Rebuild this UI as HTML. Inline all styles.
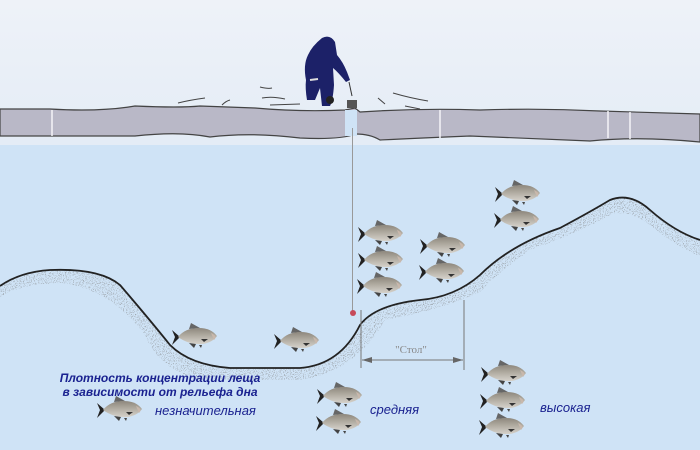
<!DOCTYPE html>
<html><head><meta charset="utf-8"><style>
body{margin:0;width:700px;height:450px;overflow:hidden;background:#cfe3f6}
svg{display:block}
</style></head><body>
<svg width="700" height="450" viewBox="0 0 700 450">
<defs>
<linearGradient id="sky" x1="0" y1="0" x2="0" y2="1"><stop offset="0" stop-color="#eef2f8"/><stop offset="1" stop-color="#e4ecf6"/></linearGradient>
<linearGradient id="fb" x1="0" y1="0" x2="0" y2="1"><stop offset="0" stop-color="#8d877c"/><stop offset="0.5" stop-color="#b3aea4"/><stop offset="1" stop-color="#d6d2cb"/></linearGradient>
<filter id="spk"><feTurbulence type="fractalNoise" baseFrequency="0.9" numOctaves="2" result="n"/><feColorMatrix type="matrix" values="0 0 0 0 0.2 0 0 0 0 0.2 0 0 0 0 0.2 0 0 0 -7 3.2" in="n" result="m"/><feComposite in="m" in2="SourceGraphic" operator="in"/></filter>
<g id="fish">
<path d="M-23,-6 L-15,1 L-23,9 L-20,1 Z" fill="#222"/>
<path d="M-6,-7 L-4,-13 L5,-8 Z" fill="#666"/>
<path d="M-17,1 Q-10,-8 4,-8 Q16,-8 22,0 Q18,6 8,8 Q-6,9 -17,1Z" fill="url(#fb)"/>
<path d="M16,-3 Q23,0 19,4 Z" fill="#c9b8ac"/>
<path d="M6,3 L13,3 L9,6Z" fill="#333"/>
<path d="M-6,7 L-1,12 L1,8Z" fill="#444"/>
<path d="M4,9 L6,12 L7,9Z" fill="#444"/>
</g>
</defs>
<rect width="700" height="145" fill="url(#sky)"/>
<!-- ice -->
<path d="M0,109 L50,109 Q100,112 135,106 Q180,108 200,106 L255,108 Q300,112 345,110 L355,108 L360,112 Q420,108 480,110 Q540,108 600,111 L700,114 L700,142 Q640,136 590,141 Q520,138 470,136 Q420,138 380,140 Q370,134 356,134 Q340,140 300,138 Q250,132 210,137 Q180,131 135,136 L0,136 Z" fill="#b9b8c7" stroke="#444" stroke-width="1.2"/>
<rect x="345" y="110" width="12" height="26" fill="#cfe3f6"/>
<g stroke="#f4f4f8" stroke-width="1.5"><line x1="52" y1="110" x2="52" y2="136"/><line x1="440" y1="110" x2="440" y2="138"/><line x1="608" y1="111" x2="608" y2="138"/><line x1="630" y1="112" x2="630" y2="139"/></g>
<!-- snow scribbles -->
<g stroke="#444" stroke-width="1" fill="none">
<path d="M178,103 Q190,100 205,98"/><path d="M222,105 Q226,101 230,100"/><path d="M260,87 Q268,89 272,88"/><path d="M262,98 Q272,96 285,99"/><path d="M393,93 Q410,98 428,101"/><path d="M378,98 L385,104"/><path d="M405,106 L420,109"/><path d="M270,105 L300,104"/></g>
<!-- fisherman -->
<g fill="#1c2168">
<path d="M322,38 Q330,34 335,42 L337,55 Q343,62 347,72 L350,80 L346,82 Q338,72 333,68 L334,85 Q333,100 330,106 L322,106 L320,88 L315,100 L307,100 Q305,88 306,80 Q303,65 308,55 Q312,46 322,38Z"/>
<circle cx="330" cy="100" r="4" fill="#222"/>
<rect x="347" y="100" width="10" height="8" fill="#555"/>
</g>
<path d="M310,80 L318,79" stroke="#ddd" stroke-width="2"/>
<path d="M349,82 L352,96" stroke="#333" stroke-width="1"/>
<!-- line -->
<line x1="352.5" y1="128" x2="352.5" y2="311" stroke="#999" stroke-width="1"/>
<circle cx="353" cy="313" r="3" fill="#c64a5a"/>
<!-- bottom -->
<path d="M0,286 Q20,272 50,270 Q100,268 120,285 Q150,320 170,345 Q190,365 230,368 L300,368 Q340,365 360,325 Q375,305 420,300 Q455,297 480,275 Q510,245 560,228 Q590,212 610,200 Q630,192 650,210 Q675,232 700,240 L700,256 Q675,246 650,225 Q630,210 612,214 Q580,232 530,250 Q495,275 480,292 Q440,310 385,320 Q355,372 300,380 L200,380 Q160,370 145,335 Q110,288 60,283 Q20,284 0,297Z" fill="#555" filter="url(#spk)" opacity="0.55"/>
<path d="M0,286 Q20,272 50,270 Q100,268 120,285 Q150,320 170,345 Q190,365 230,368 L300,368 Q340,365 360,325 Q375,305 420,300 Q455,297 480,275 Q510,245 560,228 Q590,212 610,200 Q630,192 650,210 Q675,232 700,240" fill="none" stroke="#222" stroke-width="1.8"/>
<!-- stol -->
<g stroke="#777" stroke-width="1" fill="none"><line x1="361" y1="310" x2="361" y2="368"/><line x1="464" y1="300" x2="464" y2="370"/><line x1="362" y1="360" x2="463" y2="360"/></g>
<path d="M362,360 L372,357 L372,363Z M463,360 L453,357 L453,363Z" fill="#666"/>
<text x="411" y="353" font-family="Liberation Serif,serif" font-size="11" fill="#888" text-anchor="middle">"Стол"</text>
<!-- fish -->
<use href="#fish" x="195" y="336"/><use href="#fish" x="297" y="340"/>
<use href="#fish" x="381" y="233"/><use href="#fish" x="381" y="259"/><use href="#fish" x="380" y="285"/>
<use href="#fish" x="443" y="245"/><use href="#fish" x="442" y="271"/>
<use href="#fish" x="518" y="193"/><use href="#fish" x="517" y="219"/>
<use href="#fish" x="120" y="409"/><use href="#fish" x="340" y="395"/><use href="#fish" x="339" y="422"/>
<use href="#fish" x="504" y="373"/><use href="#fish" x="503" y="400"/><use href="#fish" x="502" y="426"/>
<!-- text -->
<g font-family="Liberation Sans,DejaVu Sans,sans-serif" fill="#1a2290" font-style="italic">
<text x="160" y="382" font-size="12" font-weight="bold" text-anchor="middle">Плотность концентрации леща</text>
<text x="160" y="396" font-size="12" font-weight="bold" text-anchor="middle">в зависимости от рельефа дна</text>
<text x="155" y="415" font-size="13">незначительная</text>
<text x="370" y="414" font-size="13">средняя</text>
<text x="540" y="412" font-size="13">высокая</text>
</g>
</svg>
</body></html>
